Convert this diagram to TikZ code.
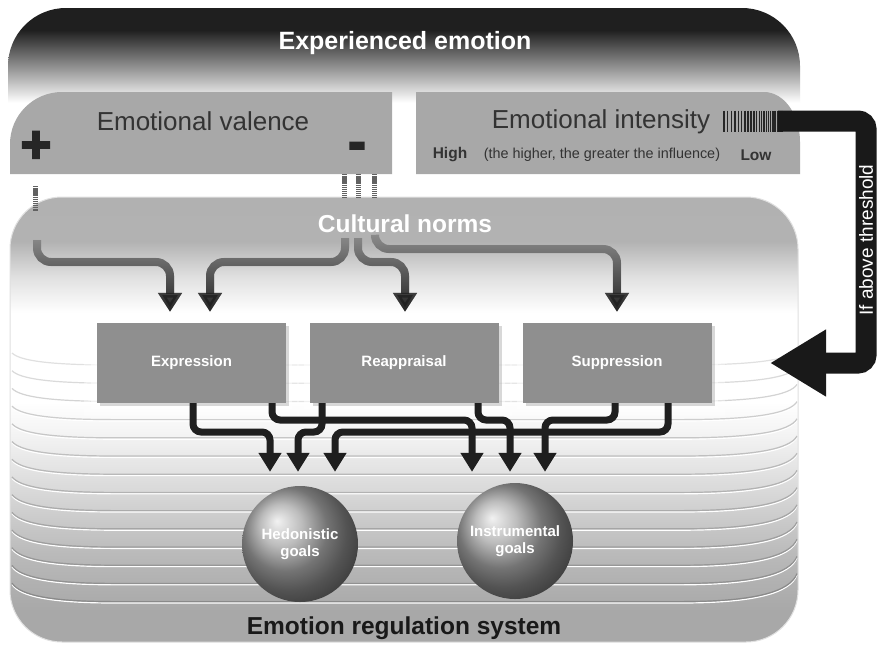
\documentclass[tikz,border=0pt]{standalone}
\usepackage{fontspec}
\setmainfont{Liberation Sans}
\newfontfamily\heavyfont[FakeBold=4]{Liberation Sans Bold}
\usetikzlibrary{arrows.meta,shadows,fadings}

% dark band fading to white (top panel)
\pgfdeclareverticalshading{topfade}{100bp}{color(0bp)=(white); color(49bp)=(white); color(69bp)=(black!88); color(100bp)=(black!88)}
% grey top, white middle, grey bottom (regulation system)
\pgfdeclareverticalshading{mainfade}{100bp}{color(0bp)=(black!34); color(28.6bp)=(black!34); color(35bp)=(black!27); color(42bp)=(black!15); color(48bp)=(black!5); color(52bp)=(white); color(62bp)=(white); color(66bp)=(black!12); color(70bp)=(black!30); color(100bp)=(black!34)}

\begin{document}
\begin{tikzpicture}[x=1pt,y=-1pt,
  title/.style={text=white, inner sep=0pt, font=\bfseries\fontsize{25}{30}\selectfont},
  paneltext/.style={text=black!80, inner sep=0pt, font=\fontsize{26}{30}\selectfont},
  scaletext/.style={text=black!80, inner sep=0pt, font=\fontsize{14.4}{17}\selectfont},
  scalebold/.style={text=black!80, inner sep=0pt, font=\bfseries\fontsize{15.5}{18}\selectfont},
  sign/.style={text=black!85, inner sep=0pt},
  panel/.style={fill=black!34},
  hatch/.style={draw=black!62, line width=5pt, dash pattern=on 1.4pt off 0.7pt},
  stripe/.style={line width=1.2pt},
  strategy/.style={rectangle, fill=black!44, minimum width=189pt, minimum height=80pt, inner sep=0pt,
    text=white, font=\bfseries\fontsize{15}{18}\selectfont,
    preaction={draw=white, draw opacity=0.35, line width=26pt},
    preaction={draw=white, draw opacity=0.5, line width=12pt},
    drop shadow={opacity=0.3, shadow xshift=3pt, shadow yshift=-3pt}},
  goal/.style={circle, minimum size=116pt, inner sep=0pt, ball color=black!35, text=white,
    align=center, font=\bfseries\fontsize{15}{17}\selectfont},
  normarrow/.style={draw=black!45, line width=8pt, rounded corners=14pt, -{Triangle[length=19pt,width=23pt]}},
  normfade/.style={normarrow, draw=black!88, path fading=north},
  goalarrow/.style={draw=black!88, line width=7pt, rounded corners=8pt, -{Triangle[length=19pt,width=22pt]}},
  threshold/.style={draw=black!90, line width=21pt, rounded corners=8pt, -{Triangle[length=56pt,width=63pt]}}
]
\useasboundingbox (0,0) rectangle (880,651);
\fill[white] (0,0) rectangle (880,651);

% ---- experienced emotion ----
\shade[shading=topfade, rounded corners=58pt] (8,8) rectangle (800,190);
\node[title] (exp) at (405,43) {Experienced emotion};

% valence panel
\fill[panel] (10,174) -- (10,144) .. controls (10,115.3) and (33.3,92) .. (62,92) -- (392,92) -- (392,174) -- cycle;
\node[paneltext] (val) at (203,121) {Emotional valence};
\node[sign, font=\heavyfont\fontsize{52}{52}\selectfont] (plus) at (36,147) {+};
\node[sign, font=\heavyfont\fontsize{52}{52}\selectfont] (minus) at (357,151) {-};

% intensity panel
\fill[panel] (416,174) -- (416,92) -- (764,92) .. controls (783.9,92) and (800,114.4) .. (800,142) -- (800,174) -- cycle;
\node[paneltext] (int) at (601,122) {Emotional intensity};
\node[scalebold] (high) at (450,155) {High};
\node[scaletext] (infl) at (602,155) {(the higher, the greater the influence)};
\node[scalebold] (low) at (756,155) {Low};

% ---- emotion regulation system ----
\shade[shading=mainfade, rounded corners=52pt] (10,197) rectangle (798,642);
\begin{scope}
  \clip[rounded corners=52pt] (10,197) rectangle (798,642);
  \foreach \i in {0,...,13}{
    \pgfmathsetmacro\yy{365+18.2*\i}
    \pgfmathsetmacro\bl{12+0.5*\i}
    \pgfmathsetmacro\br{15+1.0*\i}
    \pgfmathsetmacro\sh{12+2.6*\i}
    \draw[stripe, white] (12,{\yy+1.4-\bl}) .. controls (20,{\yy+1.4-0.35*\bl}) and (50,\yy+1.4) .. (115,\yy+1.4) -- (680,\yy+1.4) .. controls (755,\yy+1.4) and (790,{\yy+1.4-0.35*\br}) .. (797,{\yy+1.4-\br});
    \draw[stripe, draw=black!\sh] (12,{\yy-\bl}) .. controls (20,{\yy-0.35*\bl}) and (50,\yy) .. (115,\yy) -- (680,\yy) .. controls (755,\yy) and (790,{\yy-0.35*\br}) .. (797,{\yy-\br});
  }
\end{scope}
\draw[black!12, line width=1pt, rounded corners=52pt] (10,197) rectangle (798,642);

% valence hatch bars
\draw[hatch] (35,186) -- (35,211);
\foreach \x in {344.5,358.5,374.5} \draw[hatch] (\x,174) -- (\x,198);

\node[title, font=\bfseries\fontsize{24.5}{30}\selectfont] (cn) at (405,224) {Cultural norms};
\node[title, text=black!90, font=\bfseries\fontsize{24.5}{30}\selectfont] (ers) at (404,628) {Emotion regulation system};

% strategies
\node[strategy] (Expr) at (191.5,363) {Expression};
\node[strategy] (Reap) at (404,363) {Reappraisal};
\node[strategy] (Supp) at (617,363) {Suppression};

% goals
\node[goal] (Hed) at (300,544) {Hedonistic\\goals};
\node[goal] (Ins) at (515,541) {Instrumental\\goals};

% ---- cultural norms -> strategies ----
\coordinate (rl) at (0,262);
\coordinate (ru) at (0,249);
\coordinate (c1s) at (37,240);
\coordinate (c2s) at (345,238);
\coordinate (c3s) at (358,238);
\coordinate (c4s) at (375,238);
\coordinate (c1t) at ([xshift=-21.5pt,yshift=11pt]Expr.north);
\coordinate (c2t) at ([xshift=18.5pt,yshift=11pt]Expr.north);
\coordinate (c3t) at ([xshift=1pt,yshift=11pt]Reap.north);
\coordinate (c4t) at ([yshift=11pt]Supp.north);
\foreach \s in {normarrow,normfade}{
  \draw[\s] (c1s) -- (c1s |- rl) -- (c1t |- rl) -- (c1t);
  \draw[\s] (c2s) -- (c2s |- rl) -- (c2t |- rl) -- (c2t);
  \draw[\s] (c3s) -- (c3s |- rl) -- (c3t |- rl) -- (c3t);
  \draw[\s] (c4s) -- (c4s |- ru) -- (c4t |- ru) -- (c4t);
}

% ---- strategies -> goals ----
\coordinate (ra) at (0,432);
\coordinate (rb) at (0,420);
\coordinate (e1) at ([xshift=1.5pt]Expr.south);
\coordinate (e2) at ([xshift=80.5pt]Expr.south);
\coordinate (r1) at ([xshift=-82pt]Reap.south);
\coordinate (r2) at ([xshift=74pt]Reap.south);
\coordinate (s1) at ([xshift=-2pt]Supp.south);
\coordinate (s2) at ([xshift=51pt]Supp.south);
\coordinate (h1) at ([xshift=-30pt,yshift=14pt]Hed.north);
\coordinate (h2) at ([xshift=-2pt,yshift=14pt]Hed.north);
\coordinate (h3) at ([xshift=35pt,yshift=14pt]Hed.north);
\coordinate (i1) at ([xshift=-43pt,yshift=11pt]Ins.north);
\coordinate (i2) at ([xshift=-5pt,yshift=11pt]Ins.north);
\coordinate (i3) at ([xshift=30pt,yshift=11pt]Ins.north);
\draw[goalarrow] (e1) -- (e1 |- ra) -- (h1 |- ra) -- (h1);
\draw[goalarrow] (e2) -- (e2 |- rb) -- (i1 |- rb) -- (i1);
\draw[goalarrow] (r1) -- (r1 |- ra) -- (h2 |- ra) -- (h2);
\draw[goalarrow] (r2) -- (r2 |- rb) -- (i2 |- rb) -- (i2);
\draw[goalarrow] (s1) -- (s1 |- rb) -- (i3 |- rb) -- (i3);
\draw[goalarrow] (s2) -- (s2 |- ra) -- (h3 |- ra) -- (h3);

% ---- intensity threshold loop ----
\foreach \i in {0,...,24}{
  \pgfmathsetmacro\hx{724+3.86*\i-0.06*\i*\i}
  \draw[black!85, line width=1.3pt] (\hx,110.5) -- (\hx,131.5);
}
\coordinate (ibar) at (778,121);
\coordinate (xr) at (866,0);
\coordinate (thr) at (770,363);
\draw[threshold] (ibar) -- (ibar -| xr) -- (xr |- thr) -- (thr);
\node[rotate=90, text=white, inner sep=0pt, font=\fontsize{19}{22}\selectfont] (thrtext) at (866,240) {If above threshold};
\end{tikzpicture}
\end{document}
